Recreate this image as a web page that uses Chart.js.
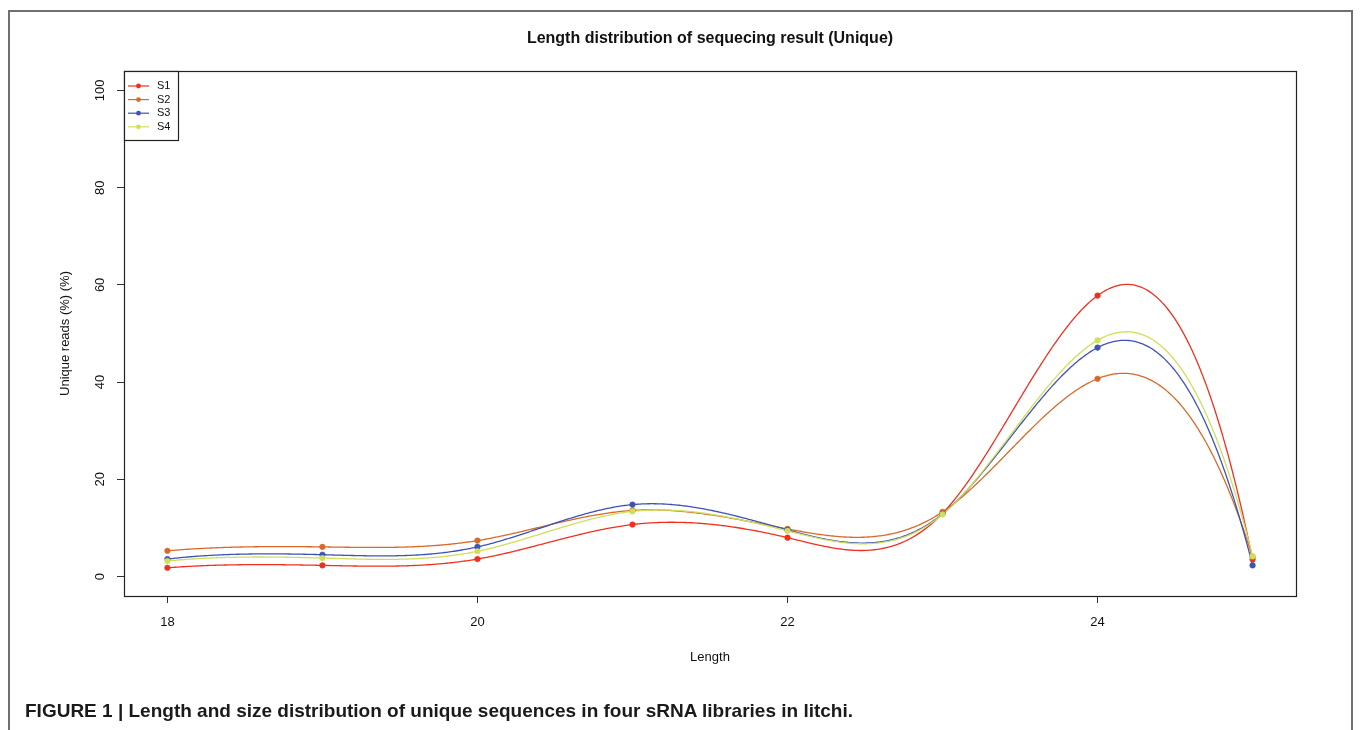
<!DOCTYPE html>
<html><head><meta charset="utf-8">
<script src="https://cdn.jsdelivr.net/npm/chart.js@4.4.1/dist/chart.umd.min.js"></script>
<style>
html,body{margin:0;padding:0;background:#fff;overflow:hidden;width:1360px;height:730px;}
#frame{position:absolute;left:8px;top:10px;width:1345px;height:740px;border:2px solid #707070;border-bottom:none;box-sizing:border-box;}
#wrap{position:absolute;left:0;top:0;width:1360px;height:730px;}
#caption{position:absolute;left:25px;top:700px;font:bold 19px "Liberation Sans",Arial,sans-serif;color:#1a1a1a;white-space:nowrap;}
</style></head><body>
<div id="frame"></div>
<div id="wrap"><canvas id="c" width="1360" height="730"></canvas></div>
<div id="caption">FIGURE 1 | Length and size distribution of unique sequences in four sRNA libraries in litchi.</div>
<script>
// ---- data ----
const lengths = [18, 19, 20, 21, 22, 23, 24, 25];
const s1 = [1.8, 2.3, 3.6, 10.7, 8.0, 13.0, 57.8, 3.5];
const s2 = [5.3, 6.1, 7.4, 13.6, 9.8, 13.3, 40.7, 4.0];
const s3 = [3.6, 4.5, 6.1, 14.8, 9.6, 12.9, 47.1, 2.3];
const s4 = [3.2, 3.8, 5.2, 13.4, 9.4, 12.8, 48.6, 4.2];
const seriesNames = ['S1', 'S2', 'S3', 'S4'];
const seriesColors = ['#F0301F', '#D8692A', '#3F53B5', '#CFDF5A'];
const xTicks = [18, 20, 22, 24];
const yTicks = [0, 20, 40, 60, 80, 100];

const FONT = '"Liberation Sans", Arial, Helvetica, sans-serif';

// R-style "fmm" interpolating cubic spline, used to draw the smooth line through the points
function fmmSpline(x, y) {
  const n = x.length;
  const X = [0, ...x], Y = [0, ...y];
  const b = new Array(n + 1).fill(0), c = new Array(n + 1).fill(0), d = new Array(n + 1).fill(0);
  const nm1 = n - 1;
  d[1] = X[2] - X[1];
  c[2] = (Y[2] - Y[1]) / d[1];
  for (let i = 2; i < n; i++) {
    d[i] = X[i + 1] - X[i];
    b[i] = 2 * (d[i - 1] + d[i]);
    c[i + 1] = (Y[i + 1] - Y[i]) / d[i];
    c[i] = c[i + 1] - c[i];
  }
  b[1] = -d[1]; b[n] = -d[nm1]; c[1] = 0; c[n] = 0;
  if (n > 3) {
    c[1] = c[3] / (X[4] - X[2]) - c[2] / (X[3] - X[1]);
    c[n] = c[nm1] / (X[n] - X[n - 2]) - c[n - 2] / (X[nm1] - X[n - 3]);
    c[1] = c[1] * d[1] * d[1] / (X[4] - X[1]);
    c[n] = -c[n] * d[nm1] * d[nm1] / (X[n] - X[n - 3]);
  }
  for (let i = 2; i <= n; i++) {
    const t = d[i - 1] / b[i - 1];
    b[i] = b[i] - t * d[i - 1];
    c[i] = c[i] - t * c[i - 1];
  }
  c[n] = c[n] / b[n];
  for (let i = nm1; i >= 1; i--) c[i] = (c[i] - d[i] * c[i + 1]) / b[i];
  b[n] = (Y[n] - Y[n - 1]) / d[n - 1] + d[n - 1] * (c[n - 1] + 2 * c[n]);
  for (let i = 1; i <= nm1; i++) {
    b[i] = (Y[i + 1] - Y[i]) / d[i] - d[i] * (c[i + 1] + 2 * c[i]);
    d[i] = (c[i + 1] - c[i]) / d[i];
    c[i] = 3 * c[i];
  }
  c[n] = 3 * c[n]; d[n] = d[nm1];
  return function (t) {
    let i = 1;
    while (i < n && t >= X[i + 1]) i++;
    if (i >= n) i = nm1;
    const dx = t - X[i];
    return Y[i] + dx * (b[i] + dx * (c[i] + dx * d[i]));
  };
}

const splinePlugin = {
  id: 'splineLines',
  beforeDatasetsDraw(chart) {
    const ctx = chart.ctx, xs = chart.scales.x, ys = chart.scales.y;
    ctx.save();
    chart.data.datasets.forEach((ds) => {
      const xv = ds.data.map(p => p.x), yv = ds.data.map(p => p.y);
      const f = fmmSpline(xv, yv);
      ctx.beginPath();
      const x0 = xv[0], x1 = xv[xv.length - 1], steps = 700;
      for (let k = 0; k <= steps; k++) {
        const t = x0 + (x1 - x0) * k / steps;
        const px = xs.getPixelForValue(t), py = ys.getPixelForValue(f(t));
        if (k === 0) ctx.moveTo(px, py); else ctx.lineTo(px, py);
      }
      ctx.strokeStyle = ds.borderColor;
      ctx.lineWidth = 1.3;
      ctx.stroke();
    });
    ctx.restore();
  },
  afterDraw(chart) {
    const ctx = chart.ctx, a = chart.chartArea;
    ctx.save();
    // plot box
    ctx.strokeStyle = '#222';
    ctx.lineWidth = 1.2;
    ctx.strokeRect(Math.round(a.left) + 0.5, Math.round(a.top) + 0.5, Math.round(a.right - a.left), Math.round(a.bottom - a.top));
    // legend (R-style, top-left)
    const lx = a.left, ly = a.top, lw = 54, lh = 69;
    ctx.fillStyle = '#fff';
    ctx.fillRect(lx + 1, ly + 1, lw - 1, lh - 1);
    ctx.strokeRect(Math.round(lx) + 0.5, Math.round(ly) + 0.5, lw, lh);
    ctx.font = '11px ' + FONT;
    ctx.textBaseline = 'middle';
    ctx.textAlign = 'left';
    chart.data.datasets.forEach((ds, i) => {
      const yy = ly + 15 + i * 13.6;
      ctx.strokeStyle = ds.borderColor;
      ctx.lineWidth = 1.2;
      ctx.beginPath(); ctx.moveTo(lx + 4, yy); ctx.lineTo(lx + 25, yy); ctx.stroke();
      ctx.fillStyle = ds.borderColor;
      ctx.beginPath(); ctx.arc(lx + 14.5, yy, 2.4, 0, Math.PI * 2); ctx.fill();
      ctx.fillStyle = '#111';
      ctx.fillText(ds.label, lx + 33, yy);
    });
    ctx.restore();
  }
};

const datasets = [s1, s2, s3, s4].map((vals, i) => ({
  label: seriesNames[i],
  data: lengths.map((x, j) => ({ x: x, y: vals[j] })),
  borderColor: seriesColors[i],
  backgroundColor: seriesColors[i],
  showLine: false,
  pointRadius: 2.8,
  pointBorderWidth: 0.5,
  pointHoverRadius: 2.8,
  order: 4 - i
}));

new Chart(document.getElementById('c'), {
  type: 'line',
  data: { datasets: datasets },
  plugins: [splinePlugin],
  options: {
    responsive: false,
    animation: false,
    events: [],
    layout: { padding: { left: 0, right: 64, top: 0, bottom: 0 } },
    plugins: {
      legend: { display: false },
      tooltip: { enabled: false },
      title: {
        display: true,
        fullSize: false,
        text: 'Length distribution of sequecing result (Unique)',
        color: '#111',
        font: { family: FONT, size: 16, weight: 'bold', lineHeight: 1.2 },
        padding: { top: 29, bottom: 22.8 }
      }
    },
    scales: {
      x: {
        type: 'linear',
        min: 17.72,
        max: 25.28,
        afterBuildTicks: s => { s.ticks = xTicks.map(v => ({ value: v })); },
        afterFit: s => { s.height = 134; },
        grid: { display: true, drawOnChartArea: false, drawTicks: true, tickLength: 7, color: '#333', lineWidth: 1 },
        border: { display: false },
        ticks: { color: '#111', font: { family: FONT, size: 13 }, padding: 12, maxRotation: 0, minRotation: 0 },
        title: { display: true, text: 'Length', color: '#111', font: { family: FONT, size: 13, lineHeight: 1.2 }, padding: { top: 0, bottom: 65 } }
      },
      y: {
        type: 'linear',
        min: -4,
        max: 104,
        afterBuildTicks: s => { s.ticks = yTicks.map(v => ({ value: v })); },
        afterFit: s => { s.width = 124; },
        grid: { display: true, drawOnChartArea: false, drawTicks: true, tickLength: 7, color: '#333', lineWidth: 1 },
        border: { display: false },
        ticks: { color: '#111', font: { family: FONT, size: 13 }, padding: 6, minRotation: 90, maxRotation: 90, crossAlign: 'center' },
        title: { display: true, text: 'Unique reads (%) (%)', color: '#111', font: { family: FONT, size: 13, lineHeight: 1.2 }, padding: { top: 58, bottom: 0 } }
      }
    }
  }
});
</script>
</body></html>
